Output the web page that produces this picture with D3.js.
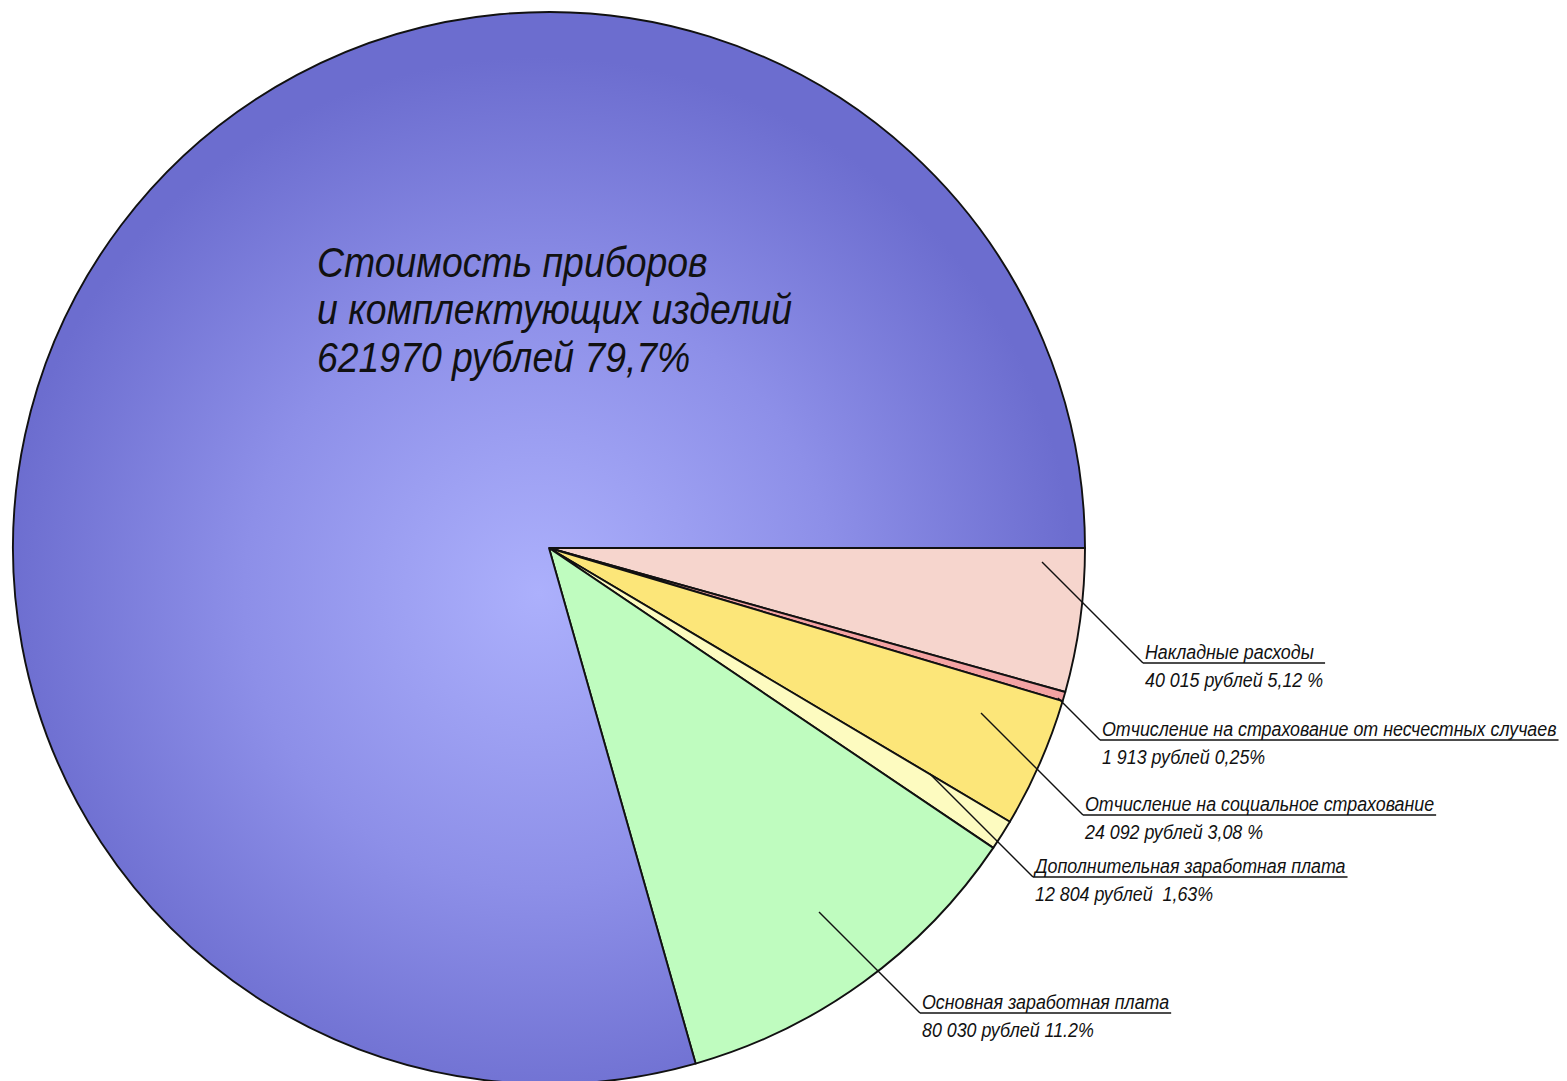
<!DOCTYPE html>
<html>
<head>
<meta charset="utf-8">
<script src="https://cdn.jsdelivr.net/npm/d3@7"></script>
<style>
  html, body { margin: 0; padding: 0; background: #fff; }
  svg { display: block; }
  text { font-family: "Liberation Sans", Arial, sans-serif; font-style: italic; fill: #111; }
</style>
</head>
<body>
<svg id="chart" width="1567" height="1081"></svg>
<script>
// slice order, clockwise from 3 o'clock
const categories = [
  'Накладные расходы',
  'Отчисление на страхование от несчестных случаев',
  'Отчисление на социальное страхование',
  'Дополнительная заработная плата',
  'Основная заработная плата',
  'Стоимость приборов и комплектующих изделий',
];
// share of the circle as drawn in the picture, %
const shares = [4.33, 0.28, 3.92, 0.92, 11.14, 79.41];
const colors = ['#f6d5cd', '#f4a3a3', '#fce679', '#fdfbc0', '#bffcbf', 'url(#blueGrad)'];

const calloutTitles = categories.slice(0, 5);
const calloutValues = [
  '40 015 рублей 5,12 %',
  '1 913 рублей 0,25%',
  '24 092 рублей 3,08 %',
  '12 804 рублей  1,63%',
  '80 030 рублей 11.2%',
];
const bigLabel = ['Стоимость приборов', 'и комплектующих изделий', '621970 рублей 79,7%'];

// callout layout: elbow of the leader and its 45° length
const calloutElbows = [[1143, 663], [1100, 740], [1083, 815], [1033, 877], [920, 1013]];
const leaderLen = [101, 42, 102, 103, 101];

const svg = d3.select('#chart');
const cx = 549;
const cy = 548;
const radius = 536;
const squeezeBig = 0.89;   // narrow lettering like the drawing font
const squeezeSmall = 0.87;

const defs = svg.append('defs');
const grad = defs.append('radialGradient')
  .attr('id', 'blueGrad')
  .attr('gradientUnits', 'userSpaceOnUse')
  .attr('cx', -10)
  .attr('cy', 45)
  .attr('r', radius);
grad.append('stop').attr('offset', 0).attr('stop-color', '#acb0fc');
grad.append('stop').attr('offset', 0.55).attr('stop-color', '#8d8fe8');
grad.append('stop').attr('offset', 1).attr('stop-color', '#6c6dcf');

const pie = d3.pie()
  .sort(null)
  .value(d => d)
  .startAngle(Math.PI / 2)
  .endAngle(Math.PI / 2 + 2 * Math.PI);

const arc = d3.arc().innerRadius(0).outerRadius(radius);

const pieGroup = svg.append('g').attr('transform', `translate(${cx},${cy})`);

pieGroup.selectAll('path')
  .data(pie(shares))
  .enter()
  .append('path')
  .attr('d', arc)
  .attr('fill', (d, i) => colors[i])
  .attr('stroke', '#111')
  .attr('stroke-width', 1.9)
  .attr('stroke-linejoin', 'round');

// big label inside blue slice
const big = svg.append('g')
  .attr('transform', `translate(317,0) scale(${squeezeBig},1)`)
  .append('text')
  .attr('font-size', 42);
big.selectAll('tspan')
  .data(bigLabel)
  .enter()
  .append('tspan')
  .attr('x', 0)
  .attr('y', (d, i) => 277 + i * 47.5)
  .text(d => d);

// callouts
const callouts = svg.append('g')
  .selectAll('g')
  .data(calloutTitles)
  .enter()
  .append('g');

callouts.each(function (title, i) {
  const g = d3.select(this);
  const [ex, ey] = calloutElbows[i];
  const len = leaderLen[i];
  const tg = g.append('g').attr('transform', `translate(${ex + 2},${ey}) scale(${squeezeSmall},1)`);
  const t1 = tg.append('text')
    .attr('y', -4)
    .attr('font-size', 20.5)
    .text(title);
  const t2 = tg.append('text')
    .attr('y', 24)
    .attr('font-size', 20.5)
    .style('white-space', 'pre')
    .text(calloutValues[i]);
  const w = squeezeSmall * Math.max(t1.node().getComputedTextLength(), t2.node().getComputedTextLength());
  g.append('line')
    .attr('x1', ex - len).attr('y1', ey - len)
    .attr('x2', ex).attr('y2', ey)
    .attr('stroke', '#111').attr('stroke-width', 1.4);
  g.append('line')
    .attr('x1', ex).attr('y1', ey)
    .attr('x2', ex + w + 4).attr('y2', ey)
    .attr('stroke', '#111').attr('stroke-width', 1.4);
});
</script>
</body>
</html>
